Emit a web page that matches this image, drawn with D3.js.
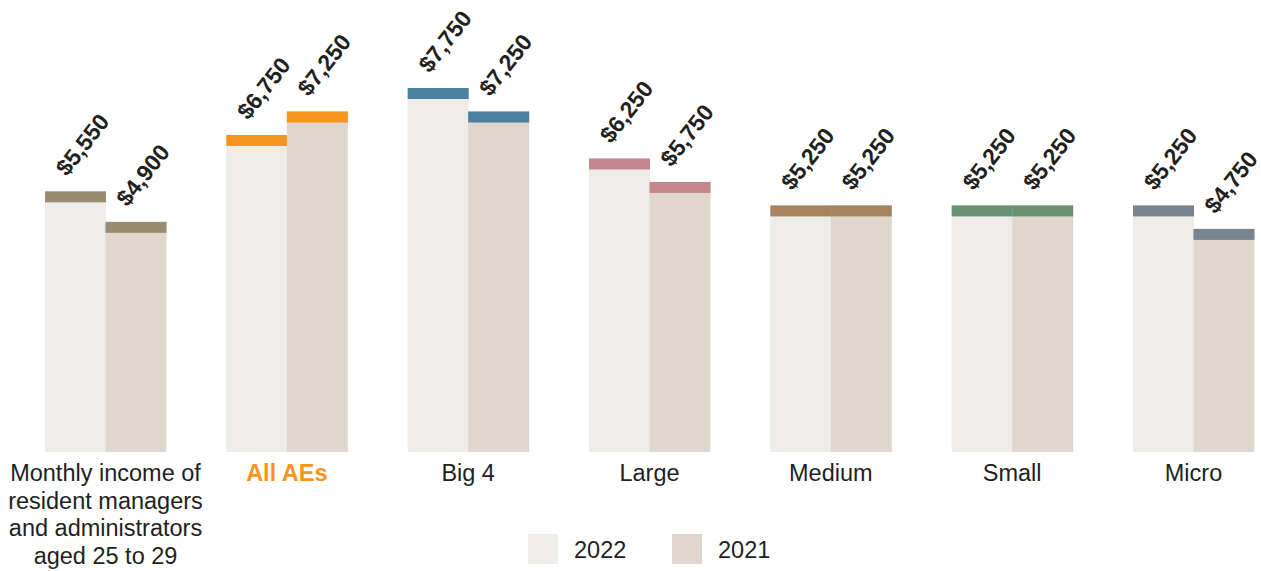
<!DOCTYPE html>
<html>
<head>
<meta charset="utf-8">
<script src="https://cdn.jsdelivr.net/npm/d3@7"></script>
<style>
  body { margin: 0; background: #fff; }
  svg { font-family: "Liberation Sans", Arial, sans-serif; }
</style>
</head>
<body>
<svg width="1261" height="571"></svg>
<script>
// Data
const categories = ["Monthly income of resident managers and administrators aged 25 to 29", "All AEs", "Big 4", "Large", "Medium", "Small", "Micro"];
const categoryLines = [
    ["Monthly income of", "resident managers", "and administrators", "aged 25 to 29"],
    ["All AEs"], ["Big 4"], ["Large"], ["Medium"], ["Small"], ["Micro"]
];
const years = ["2022", "2021"];
const values2022 = [5550, 6750, 7750, 6250, 5250, 5250, 5250];
const values2021 = [4900, 7250, 7250, 5750, 5250, 5250, 4750];
const capColors = ["#9b8b70", "#f7941d", "#4a7fa0", "#c4868a", "#a5845f", "#6a9270", "#77858f"];
const yearColors = ["#eeece8", "#dfd7ce"];

const svg = d3.select("svg");

const baseline = 452;
const capH = 11;

// Scales
const xScale = d3.scaleBand()
    .domain(categories)
    .range([45, 1254])
    .paddingInner(0.3327)
    .paddingOuter(0);

const xInner = d3.scaleBand()
    .domain(years)
    .range([0, xScale.bandwidth()]);

const yScale = d3.scaleLinear()
    .domain([0, 7750])
    .range([baseline, 88]);

const data = categories.flatMap((c, i) => [
    { cat: c, i: i, year: "2022", value: values2022[i] },
    { cat: c, i: i, year: "2021", value: values2021[i] }
]);

const groups = svg.selectAll(".bar")
    .data(data)
    .enter()
    .append("g")
    .attr("class", "bar")
    .attr("transform", d => "translate(" + (xScale(d.cat) + xInner(d.year)) + ",0)");

// Body of bar
groups.append("rect")
    .attr("x", 0)
    .attr("width", xInner.bandwidth() + 0.5)
    .attr("y", d => yScale(d.value))
    .attr("height", d => baseline - yScale(d.value))
    .attr("fill", d => d.year === "2022" ? yearColors[0] : yearColors[1]);

// Coloured cap
groups.append("rect")
    .attr("x", 0)
    .attr("width", xInner.bandwidth() + 0.5)
    .attr("y", d => yScale(d.value))
    .attr("height", capH)
    .attr("fill", d => capColors[d.i]);

// Value labels
groups.append("text")
    .attr("transform", d => "translate(" + 22 + "," + (yScale(d.value) - 14) + ") rotate(-52)")
    .attr("font-size", 23)
    .attr("font-weight", "bold")
    .attr("fill", "#231f20")
    .text(d => "$" + d3.format(",")(d.value));

// Category labels
const catLabels = svg.selectAll(".cat-label")
    .data(categories)
    .enter()
    .append("text")
    .attr("class", "cat-label")
    .attr("x", d => xScale(d) + xScale.bandwidth() / 2)
    .attr("y", 481)
    .attr("text-anchor", "middle")
    .attr("font-size", 23.5)
    .attr("font-weight", (d, i) => i === 1 ? "bold" : "normal")
    .attr("fill", (d, i) => i === 1 ? "#f7941d" : "#231f20");

catLabels.each(function (d, i) {
    const t = d3.select(this);
    categoryLines[i].forEach((line, k) => {
        t.append("tspan")
            .attr("x", xScale(d) + xScale.bandwidth() / 2)
            .attr("dy", k === 0 ? 0 : 27.5)
            .text(line);
    });
});

// Legend
const legend = svg.append("g").attr("transform", "translate(528,534)");
years.forEach((y, i) => {
    const g = legend.append("g").attr("transform", "translate(" + (i * 144) + ",0)");
    g.append("rect").attr("width", 30).attr("height", 30).attr("fill", yearColors[i]);
    g.append("text")
        .attr("x", 46)
        .attr("y", 24)
        .attr("font-size", 23.5)
        .attr("fill", "#231f20")
        .text(y);
});
</script>
</body>
</html>
